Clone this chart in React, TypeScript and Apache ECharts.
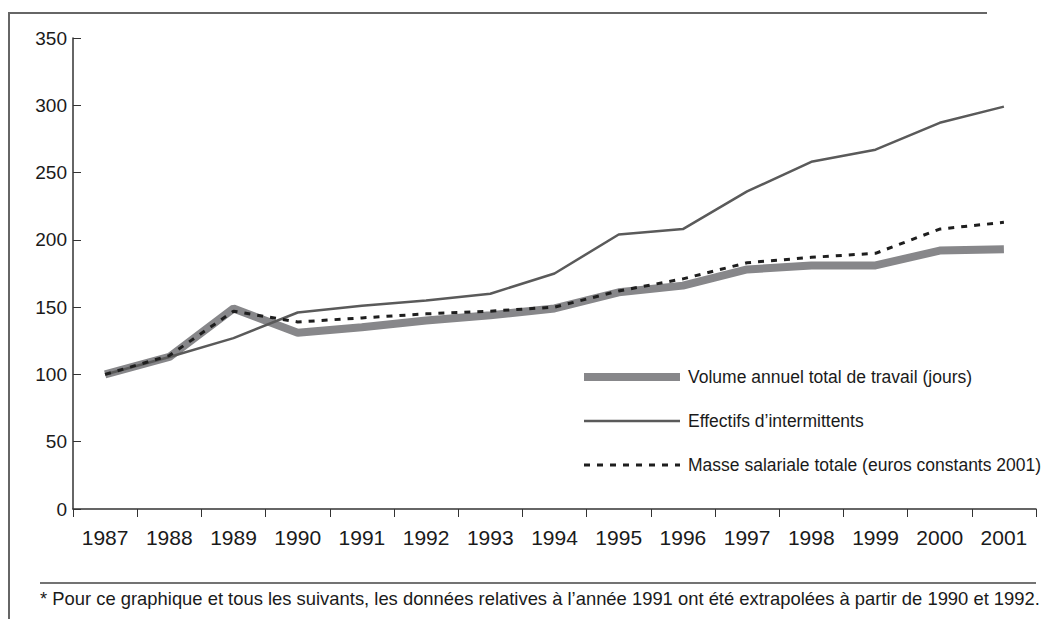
import React, { useEffect, useRef } from "react";
import * as echarts from "echarts";

const years = ["1987", "1988", "1989", "1990", "1991", "1992", "1993", "1994", "1995", "1996", "1997", "1998", "1999", "2000", "2001"];
const volumeTravail = [100, 113, 149, 131, 135, 140, 144, 149, 161, 166, 178, 181, 181, 192, 193];
const effectifs = [100, 113, 127, 146, 151, 155, 160, 175, 204, 208, 236, 258, 267, 287, 299];
const masseSalariale = [100, 114, 147, 139, 142, 145, 147, 150, 162, 171, 183, 187, 190, 208, 213];
const yTicks = [0, 50, 100, 150, 200, 250, 300, 350];

const nameVolume = "Volume annuel total de travail (jours)";
const nameEffectifs = "Effectifs d\u2019intermittents";
const nameMasse = "Masse salariale totale (euros constants 2001)";
const footnote =
  "* Pour ce graphique et tous les suivants, les donn\u00e9es relatives \u00e0 l\u2019ann\u00e9e 1991 ont \u00e9t\u00e9 extrapol\u00e9es \u00e0 partir de 1990 et 1992.";

const FONT = "Liberation Sans, Arial, sans-serif";

export default function App() {
  const ref = useRef<HTMLDivElement>(null);
  useEffect(() => {
    if (!ref.current) return;
    const chart = echarts.init(ref.current, undefined, { renderer: "svg" });
    chart.setOption({
      animation: false,
      backgroundColor: "#ffffff",
      textStyle: { fontFamily: FONT },
      grid: { left: 73, right: 15, top: 38, bottom: 110, containLabel: false },
      xAxis: {
        type: "category",
        data: years,
        boundaryGap: true,
        axisLine: { show: true, lineStyle: { color: "#333", width: 1.5 } },
        axisTick: { show: true, length: 8, lineStyle: { color: "#333", width: 1 } },
        axisLabel: { color: "#1a1a1a", fontSize: 21, margin: 18, fontFamily: FONT, interval: 0 },
        splitLine: { show: false },
      },
      yAxis: {
        type: "value",
        min: yTicks[0],
        max: yTicks[yTicks.length - 1],
        interval: 50,
        axisLine: { show: true, lineStyle: { color: "#333", width: 1.5 } },
        axisTick: { show: true, inside: true, length: 8, lineStyle: { color: "#333", width: 1 } },
        axisLabel: { color: "#1a1a1a", fontSize: 19, margin: 6, fontFamily: FONT, padding: [0, 0, 7, 0] },
        splitLine: { show: false },
      },
      legend: {
        orient: "vertical",
        left: 580,
        top: 368,
        padding: 0,
        itemWidth: 96,
        itemHeight: 10,
        itemGap: 26,
        textStyle: { color: "#1a1a1a", fontSize: 17.5, fontFamily: FONT, padding: [0, 0, 0, 3] },
        data: [
          { name: nameVolume, itemStyle: { opacity: 0 }, lineStyle: { width: 8, color: "#87878a" } },
          { name: nameEffectifs, itemStyle: { opacity: 0 }, lineStyle: { width: 2.5, color: "#5a5a5a" } },
          { name: nameMasse, itemStyle: { opacity: 0 }, lineStyle: { width: 3, color: "#1e1e1e", type: [6, 7] } },
        ],
        selectedMode: false,
      },
      series: [
        {
          name: nameVolume,
          type: "line",
          data: volumeTravail,
          symbol: "none",
          lineStyle: { width: 8, color: "#87878a" },
          itemStyle: { color: "#87878a" },
          z: 1,
        },
        {
          name: nameEffectifs,
          type: "line",
          data: effectifs,
          symbol: "none",
          lineStyle: { width: 2.5, color: "#5a5a5a" },
          itemStyle: { color: "#5a5a5a" },
          z: 2,
        },
        {
          name: nameMasse,
          type: "line",
          data: masseSalariale,
          symbol: "none",
          lineStyle: { width: 3, color: "#1e1e1e", type: [6, 7] },
          itemStyle: { color: "#1e1e1e" },
          z: 3,
        },
      ],
      graphic: [
        {
          type: "line",
          shape: { x1: 9, y1: 13, x2: 9, y2: 619 },
          style: { stroke: "#666", lineWidth: 2 },
          silent: true,
        },
        {
          type: "line",
          shape: { x1: 8, y1: 13, x2: 987, y2: 13 },
          style: { stroke: "#666", lineWidth: 2 },
          silent: true,
        },
        {
          type: "line",
          shape: { x1: 40, y1: 583, x2: 1036, y2: 583 },
          style: { stroke: "#444", lineWidth: 1.5 },
          silent: true,
        },
        {
          type: "text",
          left: 40,
          top: 589,
          style: { text: footnote, fill: "#1a1a1a", fontSize: 18.4, fontFamily: FONT },
          silent: true,
        },
      ],
    });
    return () => chart.dispose();
  }, []);
  return (
    <div
      ref={ref}
      style={{ position: "absolute", left: 0, top: 0, width: 1051, height: 619 }}
    />
  );
}
